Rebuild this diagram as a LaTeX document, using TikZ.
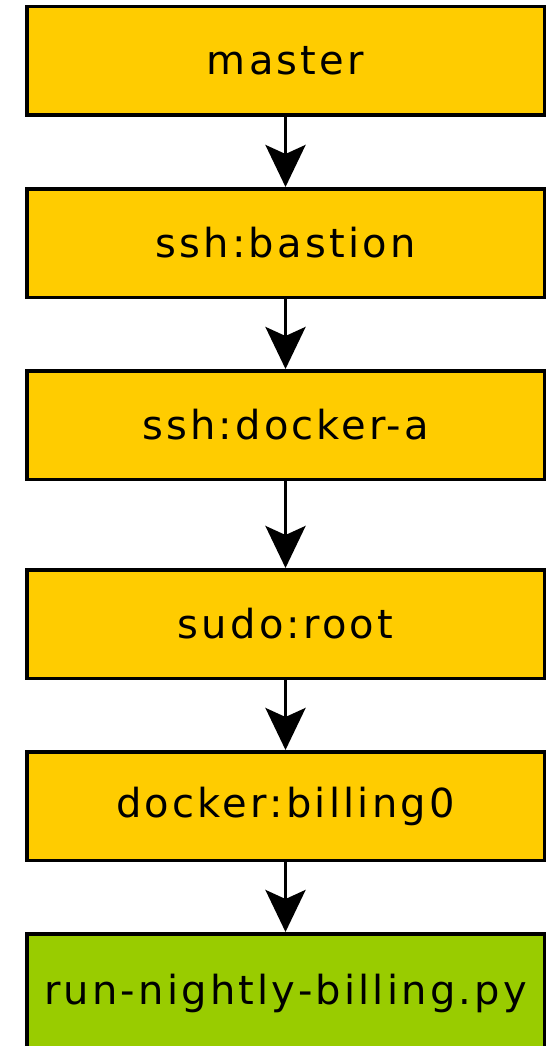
\documentclass[tikz,border=0pt]{standalone}
\usepackage{fontspec}
\usetikzlibrary{arrows.meta,positioning}

\newfontfamily\hopfont[LetterSpace=8]{DejaVu Sans}
\definecolor{hopyellow}{HTML}{FFCC00}
\definecolor{targetgreen}{HTML}{99CC00}

\begin{document}
\begin{tikzpicture}[
	>={Stealth[length=42pt,width=40pt,inset=9pt]},
	node distance=70pt,
	line width=3.5pt,
	hop/.style={
		rectangle,
		draw,
		fill=hopyellow,
		minimum width=517.5pt,
		minimum height=108.5pt,
		font=\hopfont\fontsize{40}{46}\selectfont
	},
	target/.style={
		hop,
		fill=targetgreen,
		minimum height=120pt
	}]

	\useasboundingbox (0,0) rectangle (547pt,-1046pt);

	\node[hop] (master) at (285.5pt,-61pt) {master};
	\node[hop, below=of master] (bastion) {ssh:bastion};
	\node[hop, below=of bastion] (dockera) {ssh:docker-a};
	\node[hop, below=87pt of dockera] (root) {sudo:root};
	\node[hop, below=of root] (billing) {docker:billing0};
	\node[target, below=70pt of billing.south, anchor=north] (job) {run-nightly-billing.py};

	\path[->]
	 (master) edge (bastion)
	 (bastion) edge (dockera)
	 (dockera) edge (root)
	 (root) edge (billing)
	 (billing) edge (job);
\end{tikzpicture}
\end{document}
